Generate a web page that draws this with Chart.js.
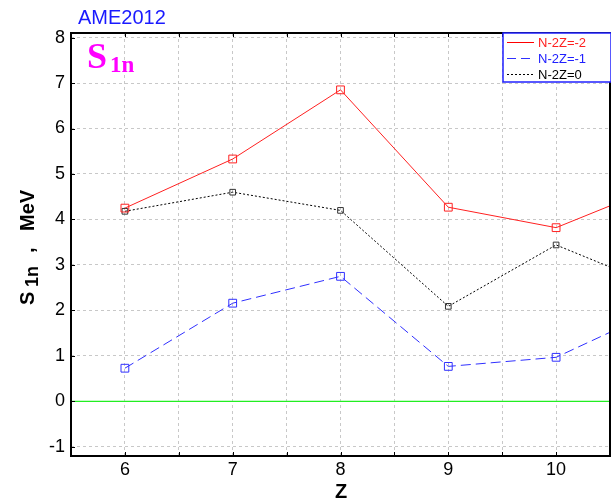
<!DOCTYPE html>
<html>
<head>
<meta charset="utf-8">
<script src="https://cdn.jsdelivr.net/npm/chart.js@4"></script>
<style>
  html, body { margin: 0; padding: 0; background: #fff; overflow: hidden; }
  #wrap { width: 611px; height: 501px; position: relative; }
  canvas { display: block; }
</style>
</head>
<body>
<div id="wrap"><canvas id="chart" width="611" height="501"></canvas></div>
<script>
// chart data
const zValues = [6, 7, 8, 9, 10, 11];
const seriesM2 = [4.25, 5.33, 6.85, 4.27, 3.82, 4.78];
const seriesM1 = [0.73, 2.16, 2.75, 0.77, 0.97, 2.07];
const series0 = [4.18, 4.60, 4.20, 2.09, 3.44, 2.47];
const yTickValues = [-1, 0, 1, 2, 3, 4, 5, 6, 7, 8];
const legendLabels = ['N-2Z=-2', 'N-2Z=-1', 'N-2Z=0'];

function toPoints(vals) {
    return zValues.map((z, i) => ({ x: z, y: vals[i] }));
}

const gridColor = '#c8c8c8';

// frame, tick marks, labels and legend
const decorPlugin = {
    id: 'decor',
    afterDatasetsDraw(chart) {
        const ctx = chart.ctx;
        const a = chart.chartArea;
        const xs = chart.scales.x, ys = chart.scales.y;
        ctx.save();

        // zero line
        ctx.strokeStyle = '#22ee22';
        ctx.lineWidth = 1.2;
        ctx.beginPath();
        ctx.moveTo(a.left, ys.getPixelForValue(0));
        ctx.lineTo(a.right, ys.getPixelForValue(0));
        ctx.stroke();

        // tick marks pointing in
        ctx.strokeStyle = '#000';
        ctx.lineWidth = 1;
        for (let v = 5.5; v <= 10.5; v += 0.5) {
            const px = Math.round(xs.getPixelForValue(v)) + 0.5;
            ctx.beginPath();
            ctx.moveTo(px, a.bottom); ctx.lineTo(px, a.bottom - 4);
            ctx.moveTo(px, a.top); ctx.lineTo(px, a.top + 4);
            ctx.stroke();
        }
        yTickValues.forEach(v => {
            const py = Math.round(ys.getPixelForValue(v)) + 0.5;
            ctx.beginPath();
            ctx.moveTo(a.left, py); ctx.lineTo(a.left + 4, py);
            ctx.stroke();
        });

        // frame
        ctx.lineWidth = 2;
        ctx.strokeStyle = '#000';
        ctx.strokeRect(a.left, a.top, a.right - a.left, a.bottom - a.top);

        // title
        ctx.fillStyle = '#1a1aff';
        ctx.font = '20px "Liberation Sans", Arial, sans-serif';
        ctx.textBaseline = 'alphabetic';
        ctx.textAlign = 'left';
        ctx.fillText('AME2012', 78, 24);

        // S1n label
        ctx.fillStyle = '#ff00ff';
        ctx.font = 'bold 36px "Liberation Serif", "Times New Roman", serif';
        ctx.fillText('S', 87, 68);
        ctx.font = 'bold 23px "Liberation Serif", "Times New Roman", serif';
        ctx.fillText('1n', 110, 72);

        // x axis title
        ctx.fillStyle = '#000';
        ctx.font = 'bold 20px "Liberation Sans", Arial, sans-serif';
        ctx.textAlign = 'center';
        ctx.fillText('Z', 341, 498);

        // y axis title
        ctx.save();
        ctx.translate(34, 305);
        ctx.rotate(-Math.PI / 2);
        ctx.textAlign = 'left';
        ctx.font = 'bold 20px "Liberation Sans", Arial, sans-serif';
        ctx.fillText('S', 0, 0);
        ctx.font = 'bold 18px "Liberation Sans", Arial, sans-serif';
        ctx.fillText('1n', 18, 4);
        ctx.font = 'bold 20px "Liberation Sans", Arial, sans-serif';
        ctx.fillText(',', 52, 0);
        ctx.fillText('MeV', 74, 0);
        ctx.restore();

        // legend
        const lx = 503, ly = 33, lw = 108, lh = 49;
        ctx.fillStyle = '#fff';
        ctx.fillRect(lx, ly, lw, lh);
        ctx.strokeStyle = '#2020ff';
        ctx.lineWidth = 1.5;
        ctx.strokeRect(lx, ly, lw, lh);
        const styles = [
            { color: '#ff0000', dash: [], text: '#ff2020' },
            { color: '#3030ff', dash: [9, 5], text: '#2020ff' },
            { color: '#000000', dash: [2, 2], text: '#000000' }
        ];
        ctx.font = '13px "Liberation Sans", Arial, sans-serif';
        ctx.textAlign = 'left';
        ctx.textBaseline = 'middle';
        legendLabels.forEach((lab, i) => {
            const y = ly + 9 + i * 16;
            ctx.strokeStyle = styles[i].color;
            ctx.lineWidth = 1;
            ctx.setLineDash(styles[i].dash);
            ctx.beginPath();
            ctx.moveTo(507, y + 0.5); ctx.lineTo(534, y + 0.5);
            ctx.stroke();
            ctx.setLineDash([]);
            ctx.fillStyle = styles[i].text;
            ctx.fillText(lab, 538, y + 1);
        });

        ctx.restore();
    }
};

new Chart(document.getElementById('chart').getContext('2d'), {
    type: 'line',
    data: {
        datasets: [
            {
                label: legendLabels[0],
                data: toPoints(seriesM2),
                borderColor: '#ff2020',
                borderWidth: 1,
                pointStyle: 'rect',
                pointRadius: 5.5,
                pointBorderColor: '#ff2020',
                pointBackgroundColor: 'rgba(0,0,0,0)',
                pointBorderWidth: 1,
                tension: 0,
                clip: 0
            },
            {
                label: legendLabels[1],
                data: toPoints(seriesM1),
                borderColor: '#3030ff',
                borderWidth: 1,
                borderDash: [10, 5],
                pointStyle: 'rect',
                pointRadius: 5.5,
                pointBorderColor: '#3030ff',
                pointBackgroundColor: 'rgba(0,0,0,0)',
                pointBorderWidth: 1,
                tension: 0,
                clip: 0
            },
            {
                label: legendLabels[2],
                data: toPoints(series0),
                borderColor: '#000000',
                borderWidth: 1,
                borderDash: [2, 2],
                pointStyle: 'rect',
                pointRadius: 4,
                pointBorderColor: '#333',
                pointBackgroundColor: 'rgba(0,0,0,0)',
                pointBorderWidth: 1,
                tension: 0,
                clip: 0
            }
        ]
    },
    options: {
        responsive: false,
        animation: false,
        layout: { autoPadding: false, padding: { left: 0, top: 33, right: 1, bottom: 0 } },
        plugins: {
            legend: { display: false },
            tooltip: { enabled: false }
        },
        scales: {
            x: {
                type: 'linear',
                min: 5.5,
                max: 10.5,
                ticks: {
                    stepSize: 0.5,
                    autoSkip: false,
                    maxRotation: 0,
                    color: '#000',
                    padding: 3,
                    font: { family: '"Liberation Sans", Arial, sans-serif', size: 18 },
                    callback: v => Number.isInteger(v) ? String(v) : ''
                },
                grid: {
                    color: gridColor,
                    drawTicks: false
                },
                border: { display: false, dash: [3, 3] },
                afterFit: s => { s.height = 45; s.paddingRight = 0; s.paddingLeft = 0; }
            },
            y: {
                type: 'linear',
                min: -1.2,
                max: 8.1,
                afterBuildTicks: s => { s.ticks = yTickValues.map(v => ({ value: v })); },
                ticks: {
                    color: '#000',
                    padding: 6,
                    font: { family: '"Liberation Sans", Arial, sans-serif', size: 18 }
                },
                grid: {
                    color: gridColor,
                    drawTicks: false
                },
                border: { display: false, dash: [3, 3] },
                afterFit: s => { s.width = 71; s.paddingTop = 0; s.paddingBottom = 0; }
            }
        }
    },
    plugins: [decorPlugin]
});
</script>
</body>
</html>
